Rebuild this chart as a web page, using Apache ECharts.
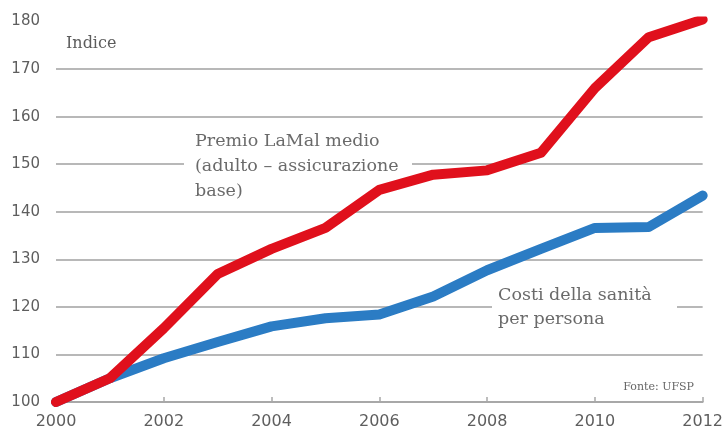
<!DOCTYPE html>
<html>
<head>
<meta charset="utf-8">
<script src="https://cdn.jsdelivr.net/npm/echarts@6/dist/echarts.min.js"></script>
<style>
html,body{margin:0;padding:0;background:#fff;}
#c{width:726px;height:430px;}
</style>
</head>
<body>
<div id="c"></div>
<script>
const years = ['2000','2001','2002','2003','2004','2005','2006','2007','2008','2009','2010','2011','2012'];
const premio = [100, 105.0, 115.5, 126.9, 132.2, 136.6, 144.6, 147.8, 148.7, 152.4, 166.0, 176.7, 180.4];
const costi = [100, 105.0, 109.2, 112.6, 115.9, 117.6, 118.4, 122.2, 127.7, 132.2, 136.6, 136.8, 143.4];
const yTicks = [100, 110, 120, 130, 140, 150, 160, 170, 180];

const chart = echarts.init(document.getElementById('c'), null, {renderer: 'canvas'});
const gridColors = yTicks.map(v => v === 180 || v === 100 ? 'rgba(0,0,0,0)' : '#b8b8b8');

const labelFont = 'DejaVu Serif';
chart.setOption({
  animation: false,
  backgroundColor: '#ffffff',
  grid: {left: 56, right: 23, top: 21.5, bottom: 27, containLabel: false},
  xAxis: {
    type: 'category',
    data: years,
    boundaryGap: false,
    axisLine: {show: true, lineStyle: {color: '#a8a8a8', width: 2}},
    axisTick: {show: true, interval: 1, length: 5, inside: true, lineStyle: {color: '#a8a8a8', width: 1.5}},
    axisLabel: {interval: 1, color: '#5e5e5e', fontFamily: 'DejaVu Sans', fontSize: 16, margin: 12},
    splitLine: {show: false}
  },
  yAxis: {
    type: 'value',
    min: yTicks[0],
    max: yTicks[yTicks.length - 1],
    interval: 10,
    axisLine: {show: false},
    axisTick: {show: false},
    axisLabel: {color: '#5e5e5e', fontFamily: 'DejaVu Sans', fontSize: 15, margin: 16},
    splitLine: {show: true, lineStyle: {color: gridColors, width: 2}}
  },
  series: [
    {
      name: 'Costi della sanità per persona',
      type: 'line',
      data: costi,
      symbol: 'none',
      lineStyle: {color: '#2b7cc4', width: 10, cap: 'round', join: 'round'},
      z: 2
    },
    {
      name: 'Premio LaMal medio',
      type: 'line',
      data: premio,
      symbol: 'none',
      lineStyle: {color: '#e0101c', width: 10, cap: 'round', join: 'round'},
      z: 3
    }
  ],
  graphic: [
    {type: 'text', left: 66, top: 36, style: {text: 'Indice', font: '16px "' + labelFont + '"', fill: '#5c5c5c'}},
    {type: 'rect', shape: {x: 184, y: 127, width: 228, height: 78}, style: {fill: '#ffffff'}, z: 1},
    {type: 'text', left: 195, top: 129, style: {text: 'Premio LaMal medio\n(adulto – assicurazione\nbase)', font: '17.5px "' + labelFont + '"', fill: '#6a6a6a', lineHeight: 25}, z: 10},
    {type: 'rect', shape: {x: 492, y: 281, width: 185, height: 50}, style: {fill: '#ffffff'}, z: 1},
    {type: 'text', left: 498, top: 283, style: {text: 'Costi della sanità\nper persona', font: '17.5px "' + labelFont + '"', fill: '#6a6a6a', lineHeight: 24}, z: 10},
    {type: 'text', right: 32, top: 382, style: {text: 'Fonte: UFSP', font: '11px "' + labelFont + '"', fill: '#666666'}}
  ]
});
</script>
</body>
</html>
